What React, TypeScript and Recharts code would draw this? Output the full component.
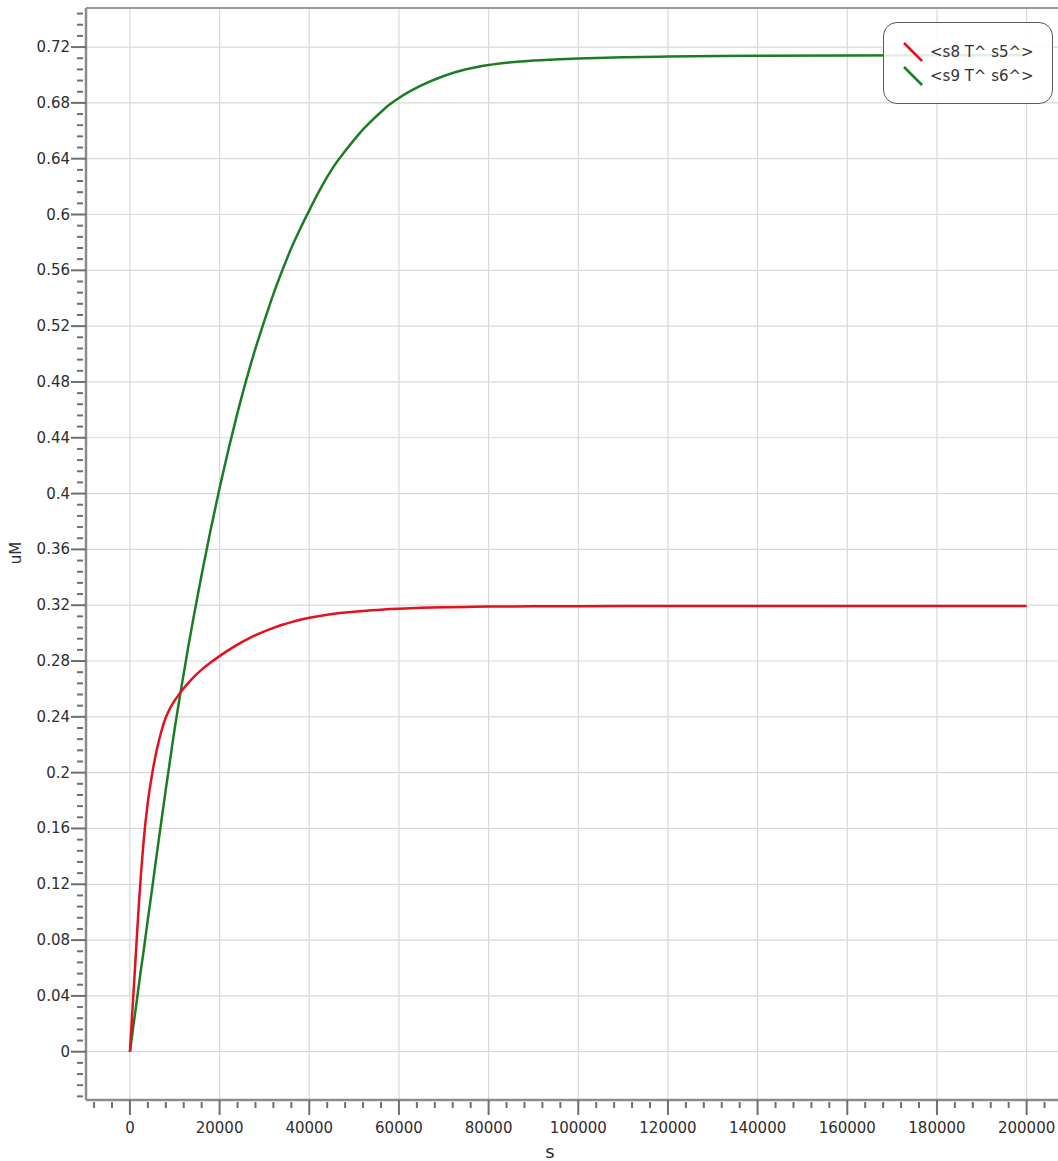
import { Line, LineChart, ReferenceLine, XAxis, YAxis } from "recharts";

// time points (s) and concentrations (uM)
const times = [
  0, 500, 1000, 1500, 2000, 2500, 3000, 4000, 5000, 6000, 7000, 8000, 9000,
  10000, 11000, 12000, 13000, 14000, 16000, 18000, 20000, 22000, 24000, 26000,
  28000, 30000, 32000, 34000, 36000, 38000, 40000, 42000, 44000, 46000, 48000,
  50000, 52000, 54000, 56000, 58000, 60000, 65000, 70000, 75000, 80000, 90000,
  100000, 110000, 120000, 140000, 160000, 180000, 200000,
];

const s8 = [
  0, 0.027, 0.053, 0.08, 0.106, 0.129, 0.149, 0.179, 0.2, 0.2165, 0.2295,
  0.2395, 0.2465, 0.2518, 0.2563, 0.2605, 0.2642, 0.2677, 0.2738, 0.279,
  0.2835, 0.2878, 0.2917, 0.2953, 0.2985, 0.3013, 0.3038, 0.306, 0.3079,
  0.3096, 0.311, 0.3121, 0.3131, 0.314, 0.3147, 0.3153, 0.3159, 0.3164,
  0.3168, 0.3172, 0.3175, 0.3181, 0.3185, 0.3188, 0.319, 0.3192, 0.3193,
  0.3194, 0.3194, 0.3195, 0.3195, 0.3195, 0.3195,
];

const s9 = [
  0, 0.012, 0.024, 0.036, 0.048, 0.06, 0.071, 0.095, 0.118, 0.142, 0.165,
  0.188, 0.21, 0.232, 0.252, 0.271, 0.29, 0.308, 0.342, 0.374, 0.404, 0.432,
  0.458, 0.482, 0.504, 0.524, 0.543, 0.56, 0.576, 0.59, 0.603, 0.6155, 0.627,
  0.637, 0.6455, 0.6535, 0.661, 0.6675, 0.6735, 0.679, 0.6835, 0.6925, 0.6993,
  0.7041, 0.7072, 0.7103, 0.7118, 0.7127, 0.7132, 0.7137, 0.714, 0.7141,
  0.7142,
];

const seriesNames = ["<s8 T^ s5^>", "<s9 T^ s6^>"];
const seriesColors = ["#e3101e", "#1b7d23"];

const xMajor = [
  0, 20000, 40000, 60000, 80000, 100000, 120000, 140000, 160000, 180000, 200000,
];
const yMajor = [
  0, 0.04, 0.08, 0.12, 0.16, 0.2, 0.24, 0.28, 0.32, 0.36, 0.4, 0.44, 0.48, 0.52,
  0.56, 0.6, 0.64, 0.68, 0.72,
];

const X_DOMAIN: [number, number] = [-9800, 207000];
const Y_DOMAIN: [number, number] = [-0.0346, 0.748];

// minor ticks: 5 steps per major interval
const xTicks: number[] = [];
for (let i = -2; i <= 51; i++) xTicks.push(i * 4000);
const yTicks: number[] = [];
for (let i = -4; i <= 93; i++) yTicks.push(i / 125);

const data = times.map((t, i) => ({ t, s8: s8[i], s9: s9[i] }));

const FONT = "'DejaVu Sans', Verdana, sans-serif";
const TICK = "#6f6f6f";
const AXIS = "#8c8c8c";
const GRID = "#d9d9d9";
const LABEL = "#2e2e2e";

function XTick(props: any) {
  const { x, y, payload } = props;
  const v = payload.value as number;
  if (!xMajor.includes(v)) {
    return <line x1={x} x2={x} y1={y + 2} y2={y + 8} stroke={TICK} strokeWidth={2} />;
  }
  return (
    <g>
      <line x1={x} x2={x} y1={y} y2={y + 15} stroke={TICK} strokeWidth={2} />
      <text x={x} y={y + 33} textAnchor="middle" fontSize={15} fill={LABEL} fontFamily={FONT}>
        {v}
      </text>
    </g>
  );
}

function YTick(props: any) {
  const { x, y, payload } = props;
  const v = payload.value as number;
  const idx = Math.round(v * 125);
  if (idx % 5 !== 0) {
    return <line x1={x - 9} x2={x - 3} y1={y} y2={y} stroke={TICK} strokeWidth={2} />;
  }
  return (
    <g>
      <line x1={x - 15} x2={x} y1={y} y2={y} stroke={TICK} strokeWidth={2} />
      <text x={x - 16} y={y + 5} textAnchor="end" fontSize={15} fill={LABEL} fontFamily={FONT}>
        {parseFloat(v.toFixed(2)).toString()}
      </text>
    </g>
  );
}

function ChartLegend() {
  return (
    <div
      style={{
        position: "absolute",
        left: 883,
        top: 22,
        width: 168,
        height: 80,
        border: "1.5px solid #5a5a5a",
        borderRadius: 14,
        background: "rgba(255,255,255,0.88)",
        fontFamily: FONT,
        fontSize: 15,
        color: "#333",
      }}
    >
      {seriesNames.map((name, i) => (
        <div
          key={name}
          style={{ position: "absolute", left: 18, top: 18 + i * 24, display: "flex", alignItems: "center" }}
        >
          <svg width={22} height={22} style={{ marginRight: 6 }}>
            <line x1={2} y1={2} x2={20} y2={20} stroke={seriesColors[i]} strokeWidth={2.5} />
          </svg>
          <span style={{ whiteSpace: "pre" }}>{name}</span>
        </div>
      ))}
    </div>
  );
}

export default function App() {
  return (
    <div
      style={{
        position: "absolute",
        left: 0,
        top: 0,
        width: 1058,
        height: 1161,
        background: "#fff",
        overflow: "hidden",
      }}
    >
      <LineChart width={1058} height={1161} data={data} margin={{ top: 8, right: 0, bottom: 0, left: 0 }}>
        {xMajor.map((v) => (
          <ReferenceLine key={"gx" + v} x={v} stroke={GRID} strokeWidth={1.2} />
        ))}
        {yMajor.map((v) => (
          <ReferenceLine key={"gy" + v} y={v} stroke={GRID} strokeWidth={1.2} />
        ))}
        <ReferenceLine y={Y_DOMAIN[1]} stroke="#9a9a9a" strokeWidth={2} />
        <XAxis
          dataKey="t"
          type="number"
          domain={X_DOMAIN}
          allowDataOverflow
          ticks={xTicks}
          interval={0}
          tickSize={0}
          tickMargin={0}
          tickLine={false}
          height={61}
          axisLine={{ stroke: AXIS, strokeWidth: 2.5 }}
          tick={<XTick />}
          label={() => (
            <text x={550} y={1158} textAnchor="middle" fontSize={18} fill={LABEL} fontFamily={FONT}>
              s
            </text>
          )}
        />
        <YAxis
          type="number"
          domain={Y_DOMAIN}
          allowDataOverflow
          ticks={yTicks}
          interval={0}
          tickSize={0}
          tickMargin={0}
          tickLine={false}
          width={86}
          axisLine={{ stroke: AXIS, strokeWidth: 2.5 }}
          tick={<YTick />}
          label={() => (
            <text
              x={21}
              y={553}
              textAnchor="middle"
              fontSize={15}
              fill={LABEL}
              fontFamily={FONT}
              transform="rotate(-90 21 553)"
            >
              uM
            </text>
          )}
        />
        <Line
          type="monotone"
          dataKey="s9"
          stroke={seriesColors[1]}
          strokeWidth={2.5}
          dot={false}
          isAnimationActive={false}
        />
        <Line
          type="monotone"
          dataKey="s8"
          stroke={seriesColors[0]}
          strokeWidth={2.5}
          dot={false}
          isAnimationActive={false}
        />
      </LineChart>
      <ChartLegend />
    </div>
  );
}
